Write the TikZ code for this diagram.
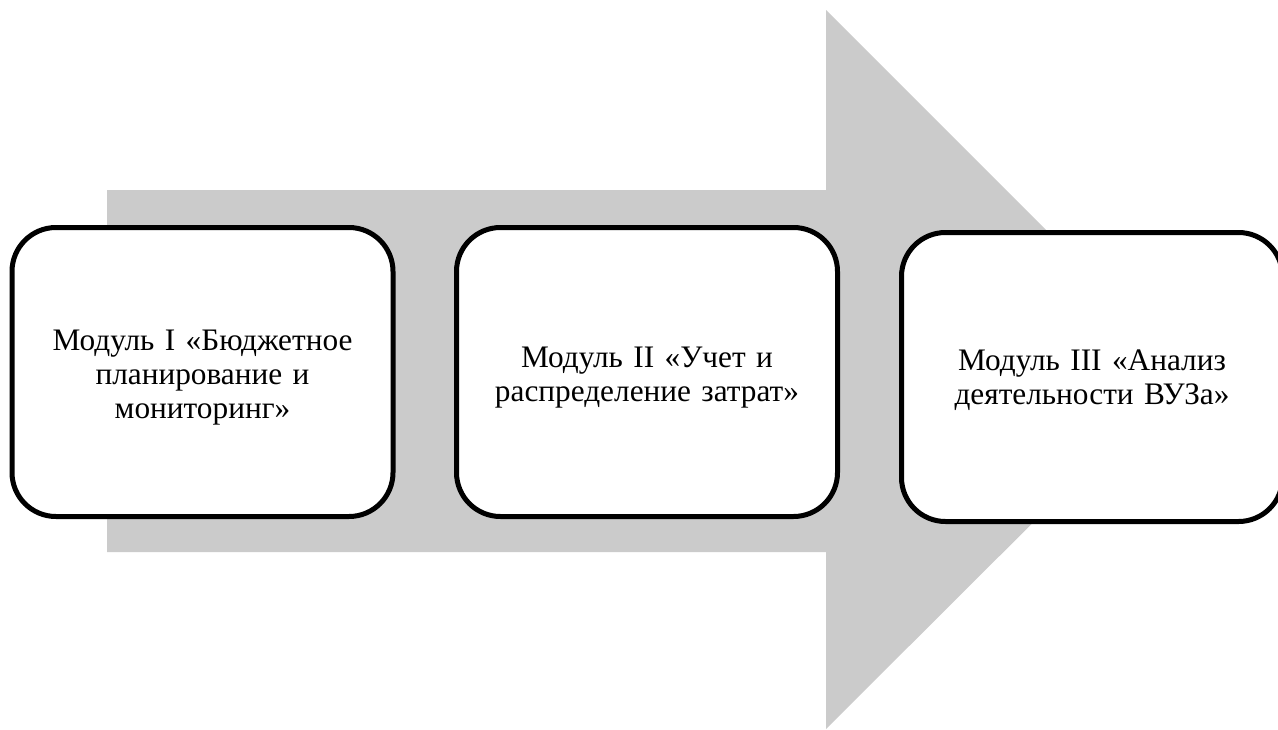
\documentclass[tikz,border=0pt]{standalone}
\usepackage{fontspec}
\setmainfont{Liberation Serif}
\definecolor{arrowgray}{HTML}{CBCBCB}
\tikzset{
  module/.style={draw=black, line width=5pt, fill=white, rounded corners=44pt,
    minimum width=381pt, minimum height=289pt, inner sep=0pt},
  moduletext/.style={align=center, text width=340pt, inner sep=0pt,
    font=\fontsize{31.3}{34}\selectfont}
}
\begin{document}
\begin{tikzpicture}[x=1pt, y=-1pt]
  \useasboundingbox (0,0) rectangle (1278,729);
  \clip (0,0) rectangle (1278,729);
  % wide gray process arrow
  \fill[arrowgray] (107,190) -- (826,190) -- (826,10) -- (1186,370)
    -- (826,729) -- (826,552) -- (107,552) -- cycle;
  % module boxes
  \node[module] (m1) at (202.5,372) {};
  \node[module] (m2) at (647,372) {};
  \node[module] (m3) at (1092,377) {};
  % module captions
  \node[moduletext] (t1) at ([yshift=-6pt]m1.center) {Модуль I «Бюджетное\\планирование и\\мониторинг»};
  \node[moduletext] (t2) at ([yshift=-6pt]m2.center) {Модуль II «Учет и\\распределение затрат»};
  \node[moduletext] (t3) at ([yshift=-3pt]m3.center) {Модуль III «Анализ\\деятельности ВУЗа»};
\end{tikzpicture}
\end{document}
